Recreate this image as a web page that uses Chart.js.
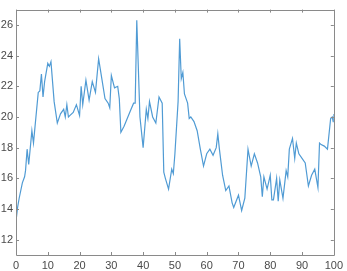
<!DOCTYPE html>
<html><head><meta charset="utf-8">
<script src="https://cdn.jsdelivr.net/npm/chart.js@4"></script>
<style>html,body{margin:0;padding:0;background:#fff;}#wrap{width:347px;height:271px;}</style>
</head><body><div id="wrap"><canvas id="c" width="347" height="271"></canvas></div>
<script>
const xValues = [0,0.5,1,2,2.7,3,3.5,4,5,5.5,6,7,7.5,8,8.5,9,10,10.5,11,12,13,14,15,15.5,16,16.5,17,18,19,20,20.5,21,22,23,24,25,26,27,28,29,29.5,30,31,32,32.5,33,34,35,36,37,37.5,38,39,40,41,41.5,42,43,44,45,46,46.5,47,48,49,49.5,50,51,51.5,52,52.5,53,54,54.5,55,56,57,58,59,60,61,62,63,63.5,64,65,66,67,68,68.5,70,71,72,73,74,75,76,77,77.5,78,79,80,80.5,81,82,82.5,83,84,85,85.5,86,87,87.7,88.2,89,90,91,92,93,94,95,95.5,96,97,98,99,99.5,99.8,100];
const yValues = [13.2,14.1,14.7,15.7,16.1,16.5,17.9,16.9,19.1,18.3,19.4,21.6,21.7,22.8,21.3,22.3,23.5,23.3,23.6,21.0,19.6,20.2,20.5,20.0,20.8,20.0,20.1,20.3,20.8,20.1,22.0,20.8,22.4,21.1,22.3,21.6,23.8,22.5,21.2,20.9,20.6,22.7,21.9,22.0,21.2,19.0,19.4,19.9,20.4,20.9,20.9,26.3,20.0,18.0,20.5,19.9,21.0,20.0,19.6,21.3,20.9,16.4,16.0,15.3,16.6,16.3,17.6,21.0,25.1,22.5,22.9,21.5,20.9,19.9,20.0,19.7,19.1,17.9,16.8,17.6,17.9,17.5,18.0,18.9,17.9,16.2,15.2,15.5,14.4,14.1,14.9,13.9,14.7,17.9,16.8,17.6,17.0,16.1,14.8,16.1,15.3,16.2,14.6,14.6,16.0,14.5,15.9,14.7,16.5,16.1,17.9,18.6,17.3,18.3,17.6,17.3,17.0,15.5,16.2,16.6,15.4,18.3,18.2,18.1,17.9,19.9,20.0,19.7,20.2];
const xTicks = [0,10,20,30,40,50,60,70,80,90,100];
const yTicks = [12,14,16,18,20,22,24,26];

const boxPlugin = {
  id: 'box',
  afterDraw(chart) {
    const ctx = chart.ctx, a = chart.chartArea;
    const xs = chart.scales.x, ys = chart.scales.y;
    ctx.save();
    ctx.strokeStyle = '#8a8a8a';
    ctx.lineWidth = 1;
    ctx.beginPath();
    ctx.rect(Math.round(a.left) + 0.5, Math.round(a.top) + 0.5, Math.round(a.right - a.left), Math.round(a.bottom - a.top));
    ctx.stroke();
    const L = 3;
    ctx.beginPath();
    xTicks.forEach(v => {
      const p = Math.round(xs.getPixelForValue(v)) + 0.5;
      ctx.moveTo(p, a.bottom); ctx.lineTo(p, a.bottom - L);
      ctx.moveTo(p, a.top); ctx.lineTo(p, a.top + L);
    });
    yTicks.forEach(v => {
      const p = Math.round(ys.getPixelForValue(v)) + 0.5;
      ctx.moveTo(a.left, p); ctx.lineTo(a.left + L, p);
      ctx.moveTo(a.right, p); ctx.lineTo(a.right - L, p);
    });
    ctx.stroke();
    ctx.restore();
  }
};

new Chart(document.getElementById('c'), {
  type: 'line',
  data: {
    datasets: [{
      data: xValues.map((x, i) => ({x: x, y: yValues[i]})),
      borderColor: 'rgb(80,155,212)',
      borderWidth: 1.2,
      pointRadius: 0,
      tension: 0,
      fill: false
    }]
  },
  options: {
    responsive: false,
    animation: false,
    devicePixelRatio: 1,
    layout: { padding: { top: 2, right: 9, left: 0, bottom: 0 } },
    plugins: { legend: { display: false }, tooltip: { enabled: false } },
    scales: {
      x: {
        type: 'linear', min: 0, max: 100,
        afterBuildTicks: s => { s.ticks = xTicks.map(v => ({value: v})); },
        afterFit: s => { s.height = 16; },
        grid: { display: false, drawTicks: false },
        border: { display: false },
        ticks: { color: '#4a4a4a', font: { family: 'Liberation Sans, Arial', size: 11 }, padding: 4, maxRotation: 0, autoSkip: false }
      },
      y: {
        type: 'linear', min: 11, max: 27,
        afterBuildTicks: s => { s.ticks = yTicks.map(v => ({value: v})); },
        afterFit: s => { s.width = 16; },
        grid: { display: false, drawTicks: false },
        border: { display: false },
        ticks: { color: '#4a4a4a', font: { family: 'Liberation Sans, Arial', size: 11 }, padding: 3 }
      }
    }
  },
  plugins: [boxPlugin]
});
</script>
</body></html>
